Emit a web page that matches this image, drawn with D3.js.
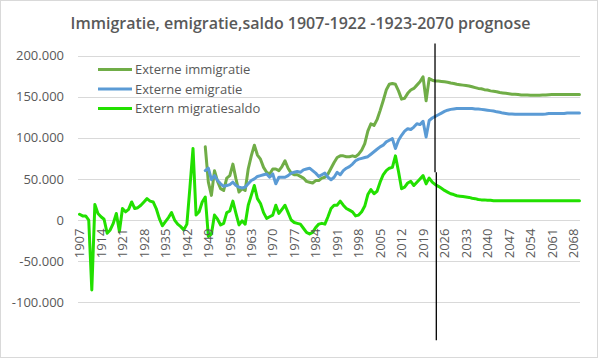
<!DOCTYPE html>
<html>
<head>
<meta charset="utf-8">
<script src="https://cdn.jsdelivr.net/npm/d3@7"></script>
<style>
  html, body { margin: 0; padding: 0; background: #fff; }
  svg { display: block; }
  text { font-family: "Open Sans", sans-serif; }
</style>
</head>
<body>
<svg id="chart" width="599" height="359"></svg>
<script>
// ---- DATA (values in thousands) ----
const firstYear = 1907;
const lastYear = 2070;
const seriesStart = 1948;   // immigration / emigration start here
const cutYear = 2023;       // last observed year (vertical marker)

const seriesNames = ["Externe immigratie", "Externe emigratie", "Extern migratiesaldo"];
const seriesColors = ["#70AD47", "#5B9BD5", "#22E000"];

const yTicks = [-100, -50, 0, 50, 100, 150, 200];

// Extern migratiesaldo 1907-2070
const saldo = [
  7, 5, 5, 0, -85, 19, 8, 4, 1, -16,            // 1907-1916
  -12, -4, 8, -14, 14, 10, 13, 22, 14, 15,      // 1917-1926
  18, 22, 26, 23, 22, 14, 2, -7, -2, 3,         // 1927-1936
  9, 0, -5, -8, -12, -5, 40, 87, 6, 10,         // 1937-1946
  22, 28, -20, -17, 6, 1, -6, -4, 9, 11,        // 1947-1956
  23, 8, -6, -1, -5, 18, 30, 42, 26, 20,        // 1957-1966
  9, 2, 4, 6, 18, 8, 13, 18, 9, 0,              // 1967-1976
  -3, -4, -5, -10, -15, -17, -15, -9, -5, -4,   // 1977-1986
  -5, 4, 14, 18, 18, 23, 18, 14, 12, 10,        // 1987-1996
  5, 6, 10, 17, 31, 37, 32, 35, 46, 55,         // 1997-2006
  60, 63, 64, 78, 59, 38, 40, 45, 47, 42,       // 2007-2016
  46, 50, 54, 44, 51, 46, 43, 41, 38.5, 36,     // 2017-2026
  34, 32, 31, 29.5, 29, 28.5, 28, 27.5, 26.5, 26, // 2027-2036
  25, 24.5, 24.5, 24, 24, 23.5, 23.5, 23.5, 23.5, 23.5, // 2037-2046
  23.5, 23.5, 23.5, 23.5, 23.5, 23.5, 23.5, 23.5, 23.5, 23.5, // 2047-2056
  23.5, 23.5, 23.5, 23.5, 23.5, 23.5, 23.5, 23.5, 23.5, 23.5, // 2057-2066
  23.5, 23.5, 23.5, 23.5                        // 2067-2070
];

// Externe immigratie 1948-2070
const immigratie = [
  89, 46, 30, 60, 47, 38, 36, 51, 54,           // 1948-1956
  68, 50, 34, 38, 36, 62, 78, 91, 79, 74,       // 1957-1966
  64, 58, 56, 62, 62, 60, 65, 72, 63, 57,       // 1967-1976
  55, 55, 53, 51, 47, 46, 45, 48, 48, 51,       // 1977-1986
  52, 56, 63, 70, 76, 78, 78, 77, 77, 78,       // 1987-1996
  77, 80, 85, 93, 108, 117, 115, 122, 133, 145, // 1997-2006
  158, 165, 166, 165, 157, 147, 148, 154, 158, 160, // 2007-2016
  164, 168, 174, 145, 172, 170, 169, 169, 168.5, 168, // 2017-2026
  167.5, 166.5, 166, 165, 164.5, 164, 163.5, 163, 162, 161, // 2027-2036
  160, 159.5, 158.5, 158, 157, 156.5, 156, 155, 154.5, 154, // 2037-2046
  153.5, 153, 153, 152.5, 152, 152, 152, 151.7, 151.7, 151.7, // 2047-2056
  151.7, 152, 152, 152.3, 152.5, 152.5, 152.5, 152.5, 152.5, 152.5, // 2057-2066
  152.5, 152.5, 152.5, 152.5                    // 2067-2070
];

// Externe emigratie 1948-2070
const emigratie = [
  60, 63, 49, 54, 48, 44, 41, 42, 43,           // 1948-1956
  46, 42, 40, 39, 40, 44, 48, 50, 53, 54,       // 1957-1966
  55, 56, 52, 56, 44, 52, 52, 52, 54, 57,       // 1967-1976
  58, 59, 58, 61, 62, 63, 60, 57, 53, 55,       // 1977-1986
  57, 52, 49, 52, 58, 55, 60, 63, 65, 68,       // 1987-1996
  72, 74, 75, 76, 77, 80, 83, 86, 89, 91,       // 1997-2006
  95, 97, 99, 87, 97, 103, 108, 111, 110, 113,  // 2007-2016
  117, 116, 120, 101, 121, 124, 126, 128, 130, 132, // 2017-2026
  133.5, 134.5, 135, 135.5, 135.5, 135.5, 135.5, 135.5, 135.5, 135, // 2027-2036
  135, 134.5, 134, 133.5, 133, 132.5, 131.5, 131, 130, 129.5, // 2037-2046
  129, 128.8, 128.6, 128.6, 128.6, 128.6, 128.6, 128.6, 128.6, 128.6, // 2047-2056
  128.6, 128.6, 129, 129.5, 129.5, 129.5, 129.5, 129.5, 129.5, 130, // 2057-2066
  130, 130, 130, 130                            // 2067-2070
];

// ---- BUILD ----
const years = d3.range(firstYear, lastYear + 1);
const offset = seriesStart - firstYear;
const rows = years.map((yr, i) => ({
  year: yr,
  imm: i >= offset ? immigratie[i - offset] : null,
  emi: i >= offset ? emigratie[i - offset] : null,
  sal: saldo[i]
}));

const W = 599, H = 359;
const plot = { left: 78, right: 581, top: 55.5, bottom: 302.3 };

const svg = d3.select("#chart");

// chart border
svg.append("rect")
  .attr("x", 0.5).attr("y", 0.5)
  .attr("width", W - 2).attr("height", H - 2)
  .attr("fill", "#fff").attr("stroke", "#d9d9d9").attr("stroke-width", 1);

const x = d3.scaleBand().domain(years).range([plot.left, plot.right]).padding(0);
const xc = d => x(d) + x.bandwidth() / 2;
const y = d3.scaleLinear().domain([-100, 200]).range([plot.bottom, plot.top]);

const loc = d3.formatLocale({ decimal: ",", thousands: ".", grouping: [3], currency: ["", ""], minus: "-" });
const fmt = loc.format(",");

// gridlines
svg.append("g").selectAll("line").data(yTicks).join("line")
  .attr("x1", plot.left).attr("x2", plot.right - 1)
  .attr("y1", d => Math.round(y(d)) + 0.5).attr("y2", d => Math.round(y(d)) + 0.5)
  .attr("stroke", "#d9d9d9").attr("stroke-width", 1);

// y axis labels
svg.append("g").selectAll("text").data(yTicks).join("text")
  .attr("x", plot.left - 14)
  .attr("y", d => y(d))
  .attr("dy", "0.36em")
  .attr("text-anchor", "end")
  .attr("font-size", 13)
  .attr("fill", "#595959")
  .text(d => d === 0 ? "0" : fmt(d * 1000));

// series lines
const keys = ["imm", "emi", "sal"];
keys.forEach((k, si) => {
  const line = d3.line()
    .defined(d => d[k] != null)
    .x(d => xc(d.year))
    .y(d => y(d[k]));
  svg.append("path")
    .datum(rows)
    .attr("d", line)
    .attr("fill", "none")
    .attr("stroke", seriesColors[si])
    .attr("stroke-width", 3)
    .attr("stroke-linejoin", "round")
    .attr("stroke-linecap", "round");
});

// x axis labels (every 7 years), rotated
const xLabelYears = years.filter(yr => (yr - firstYear) % 7 === 0);
svg.append("g").selectAll("text").data(xLabelYears).join("text")
  .attr("transform", d => `translate(${xc(d)},${y(0) + 8.5}) rotate(-90)`)
  .attr("dy", "0.36em")
  .attr("text-anchor", "end")
  .attr("font-size", 13)
  .attr("fill", "#595959")
  .text(d => d);

// vertical marker line at the last observed year
const mx = xc(cutYear);
const splitY = y(58);
svg.append("line")
  .attr("x1", mx - 0.3).attr("x2", mx - 0.3)
  .attr("y1", y(200) - 12).attr("y2", splitY)
  .attr("stroke", "#000").attr("stroke-width", 1.3);
svg.append("line")
  .attr("x1", mx + 1).attr("x2", mx + 1)
  .attr("y1", splitY).attr("y2", y(-100) + 38)
  .attr("stroke", "#000").attr("stroke-width", 1.3);

// legend
const leg = svg.append("g");
seriesNames.forEach((name, i) => {
  const ly = 69.5 + i * 19.5;
  leg.append("line")
    .attr("x1", 98).attr("x2", 132)
    .attr("y1", ly).attr("y2", ly)
    .attr("stroke", seriesColors[i]).attr("stroke-width", 3);
  leg.append("text")
    .attr("x", 135).attr("y", ly).attr("dy", "0.36em")
    .attr("font-size", 13).attr("fill", "#595959")
    .text(name);
});

// title
svg.append("text")
  .attr("x", W / 2 + 1).attr("y", 29)
  .attr("text-anchor", "middle")
  .attr("font-size", 16)
  .attr("font-weight", 600)
  .attr("fill", "#595959")
  .text("Immigratie, emigratie,saldo  1907-1922 -1923-2070 prognose");
</script>
</body>
</html>
